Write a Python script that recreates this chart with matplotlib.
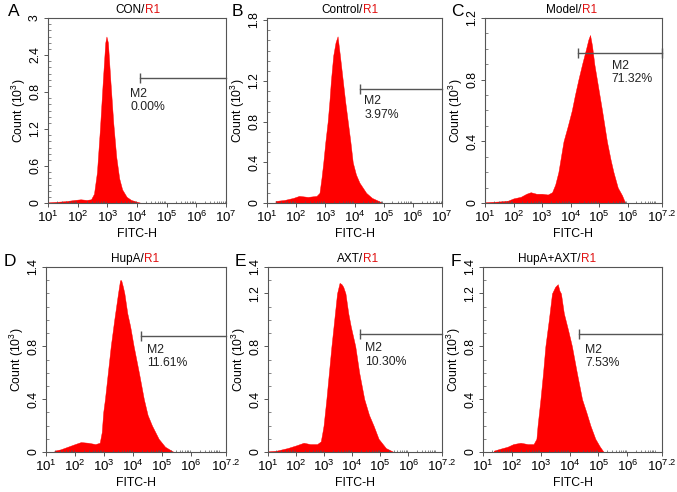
import matplotlib
matplotlib.use("Agg")
import matplotlib.pyplot as plt
from matplotlib.ticker import MultipleLocator, LogLocator, NullFormatter

plt.rcParams['font.family'] = ['Liberation Sans', 'DejaVu Sans']
plt.rcParams['mathtext.fontset'] = 'custom'
plt.rcParams['mathtext.rm'] = 'Liberation Sans'

# curves: log10(FITC-H) and count (10^3)
con_lx = [1.0, 1.3, 1.6, 1.9, 2.1, 2.3, 2.45, 2.55, 2.65, 2.75, 2.85, 2.93, 2.97, 3.02, 3.1, 3.2, 3.3, 3.4, 3.5, 3.65, 3.8, 4.0, 4.15]
con_y = [0.01, 0.02, 0.03, 0.05, 0.06, 0.05, 0.06, 0.15, 0.5, 1.2, 2.0, 2.6, 2.7, 2.6, 2.0, 1.3, 0.75, 0.4, 0.22, 0.1, 0.05, 0.02, 0.0]

ctl_lx = [1.29, 1.6, 1.9, 2.1, 2.4, 2.7, 2.8, 2.87, 2.93, 3.0, 3.08, 3.14, 3.19, 3.27, 3.35, 3.42, 3.5, 3.6, 3.68, 3.77, 3.86, 3.94, 4.05, 4.17, 4.4, 4.6, 4.98]
ctl_y = [0.02, 0.03, 0.05, 0.07, 0.06, 0.07, 0.1, 0.25, 0.4, 0.6, 0.8, 1.0, 1.2, 1.45, 1.58, 1.64, 1.45, 1.2, 1.0, 0.8, 0.6, 0.4, 0.28, 0.2, 0.1, 0.05, 0.0]

mod_lx = [1.0, 1.5, 1.8, 2.0, 2.25, 2.45, 2.6, 2.8, 3.0, 3.2, 3.35, 3.46, 3.57, 3.66, 3.75, 3.9, 4.04, 4.15, 4.27, 4.4, 4.54, 4.62, 4.68, 4.75, 4.83, 4.92, 5.1, 5.27, 5.4, 5.5, 5.65, 5.8, 5.91]
mod_y = [0.005, 0.01, 0.015, 0.03, 0.04, 0.06, 0.07, 0.06, 0.06, 0.055, 0.07, 0.12, 0.2, 0.3, 0.4, 0.5, 0.6, 0.7, 0.8, 0.9, 1.0, 1.06, 1.09, 1.02, 0.9, 0.8, 0.6, 0.4, 0.28, 0.2, 0.1, 0.05, 0.0]

hup_lx = [1.29, 1.5, 1.75, 2.0, 2.2, 2.45, 2.7, 2.85, 2.92, 2.97, 3.03, 3.13, 3.23, 3.35, 3.48, 3.55, 3.59, 3.65, 3.7, 3.8, 3.9, 4.02, 4.2, 4.37, 4.5, 4.65, 4.88, 5.1, 5.4]
hup_y = [0.01, 0.02, 0.04, 0.06, 0.075, 0.07, 0.06, 0.07, 0.15, 0.3, 0.4, 0.6, 0.8, 1.0, 1.2, 1.3, 1.3, 1.25, 1.2, 1.05, 0.95, 0.8, 0.6, 0.4, 0.28, 0.2, 0.1, 0.04, 0.0]

axt_lx = [1.0, 1.3, 1.7, 2.0, 2.27, 2.5, 2.75, 2.88, 2.94, 2.98, 3.08, 3.17, 3.26, 3.36, 3.46, 3.55, 3.62, 3.68, 3.76, 3.86, 3.95, 4.11, 4.25, 4.43, 4.6, 4.76, 4.94, 5.2, 5.48]
axt_y = [0.005, 0.01, 0.03, 0.05, 0.07, 0.06, 0.06, 0.08, 0.15, 0.2, 0.4, 0.6, 0.8, 1.0, 1.2, 1.28, 1.27, 1.25, 1.2, 1.05, 0.95, 0.8, 0.6, 0.4, 0.28, 0.2, 0.1, 0.03, 0.0]

both_lx = [1.37, 1.6, 1.85, 2.05, 2.3, 2.55, 2.75, 2.85, 2.89, 2.99, 3.08, 3.16, 3.28, 3.39, 3.5, 3.59, 3.65, 3.7, 3.8, 3.95, 4.08, 4.25, 4.43, 4.58, 4.72, 4.89, 5.05, 5.18]
both_y = [0.01, 0.025, 0.04, 0.06, 0.07, 0.06, 0.06, 0.1, 0.2, 0.4, 0.6, 0.8, 1.0, 1.2, 1.25, 1.27, 1.22, 1.2, 1.05, 0.92, 0.8, 0.6, 0.4, 0.3, 0.2, 0.1, 0.04, 0.0]

letters = ['A', 'B', 'C', 'D', 'E', 'F']
groups = ['CON', 'Control', 'Model', 'HupA', 'AXT', 'HupA+AXT']
curves = [(con_lx, con_y), (ctl_lx, ctl_y), (mod_lx, mod_y),
          (hup_lx, hup_y), (axt_lx, axt_y), (both_lx, both_y)]
percents = ['0.00%', '3.97%', '71.32%', '11.61%', '10.30%', '7.53%']
# gate M2: start (log10) and level
gate_start = [4.1, 4.19, 4.27, 4.28, 4.29, 4.31]
gate_level = [2.03, 1.125, 0.97, 0.88, 0.89, 0.89]
text_x = [3.77, 4.34, 5.44, 4.48, 4.47, 4.54]
text_y = [1.87, 1.06, 0.93, 0.82, 0.83, 0.82]
xmax = [7, 7, 7.2, 7.2, 7.2, 7.2]
ymax = [3.0, 1.82, 1.2, 1.4, 1.4, 1.4]
yticks = [[0, 0.6, 1.2, 1.8, 2.4, 3.0], [0, 0.4, 0.8, 1.2, 1.8], [0, 0.4, 0.8, 1.2],
          [0, 0.4, 0.8, 1.4], [0, 0.4, 0.8, 1.2, 1.4], [0, 0.4, 0.8, 1.2, 1.4]]
ylabels = [['0', '0.6', '1.2', '0.8', '2.4', '3'], ['0', '0.4', '0.8', '1.2', '1.8'],
           ['0', '0.4', '0.8', '1.2'], ['0', '0.4', '0.8', '1.4'],
           ['0', '0.4', '0.8', '1.2', '1.4'], ['0', '0.4', '0.8', '1.2', '1.4']]

W, H = 677, 492
boxes = [(48, 226, 18, 203), (267, 442, 18, 203), (485, 662, 18, 203),
         (46, 226, 267, 452), (268, 442, 267, 452), (483, 662, 267, 452)]
letter_pos = [(8, 12), (232, 12), (451, 12), (4, 262), (235, 262), (451, 262)]

fig = plt.figure(figsize=(W / 100, H / 100), dpi=100)
spine_c = '#555555'
fs = 8.8

for i in range(6):
    l, r, t, b = boxes[i]
    ax = fig.add_axes([l / W, 1 - b / H, (r - l) / W, (b - t) / H])
    lx, y = curves[i]
    x = [10 ** v for v in lx]
    ax.fill_between(x, 0, y, color='#ff0000', lw=0.3, edgecolor='#ff0000')
    ax.set_xscale('log')
    ax.set_xlim(10, 10 ** xmax[i])
    ax.set_ylim(0, ymax[i])

    xt = [10 ** k for k in range(1, 8)]
    xl = [r'$10^{%d}$' % k for k in range(1, 8)]
    if xmax[i] == 7.2:
        xt = xt[:-1] + [10 ** 7.2]
        xl = xl[:-1] + [r'$10^{7.2}$']
    ax.set_xticks(xt)
    ax.set_xticklabels(xl, fontsize=9.5)
    ax.xaxis.set_minor_locator(LogLocator(base=10, subs=range(2, 10), numticks=20))
    ax.xaxis.set_minor_formatter(NullFormatter())

    ax.set_yticks(yticks[i])
    ax.set_yticklabels(ylabels[i], fontsize=fs, rotation=90, va='center')
    ax.yaxis.set_minor_locator(MultipleLocator(0.1))

    ax.tick_params(which='major', direction='out', length=3, width=0.7, color=spine_c, pad=2)
    ax.tick_params(which='minor', direction='in', length=1.8, width=0.5, color=spine_c)
    for s in ax.spines.values():
        s.set_color(spine_c)
        s.set_linewidth(0.8)

    ax.set_xlabel('FITC-H', fontsize=fs, labelpad=2)
    ax.set_ylabel(r'Count ($10^3$)', fontsize=fs, labelpad=1)

    # gate marker
    g0 = 10 ** gate_start[i]
    g1 = 10 ** xmax[i]
    ax.plot([g0, g1], [gate_level[i]] * 2, color=spine_c, lw=1.0, clip_on=False)
    ends = [g0, g1] if i == 2 else [g0]
    ax.plot(ends, [gate_level[i]] * len(ends), ls='none', marker='|', ms=7,
            mew=1.0, color=spine_c, clip_on=False)
    ax.text(10 ** text_x[i], text_y[i], 'M2\n' + percents[i], fontsize=fs,
            va='top', ha='left', linespacing=1.2, color='#222222')

    cx = (l + r) / 2 / W
    ty = 1 - (t - 8) / H
    title = fig.text(cx + 0.012, ty, groups[i] + '/', ha='right', va='center', fontsize=8.5)
    ax.annotate('R1', xy=(1, 0), xycoords=title, ha='left', va='bottom',
                fontsize=8.5, color='#e01010')

    lxp, lyp = letter_pos[i]
    fig.text(lxp / W, 1 - lyp / H, letters[i], fontsize=12.5, ha='left', va='center')

fig.savefig('out.png', dpi=100)
